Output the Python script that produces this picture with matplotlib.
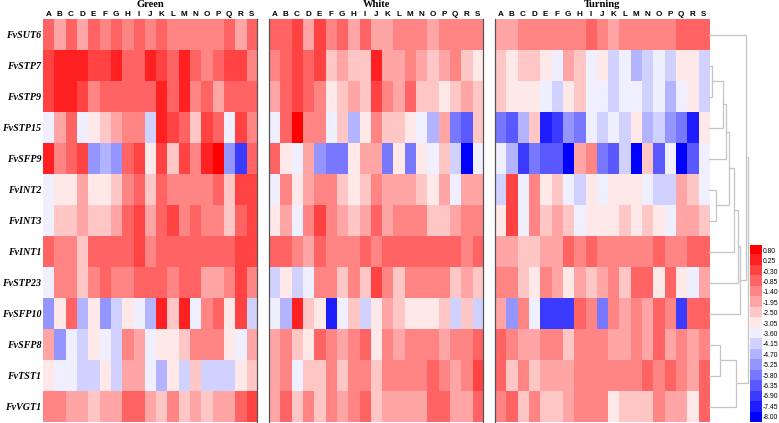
import matplotlib
matplotlib.use("Agg")
import matplotlib.pyplot as plt
import numpy as np
from matplotlib.colors import ListedColormap, BoundaryNorm


genes = ["FvSUT6", "FvSTP7", "FvSTP9", "FvSTP15", "FvSFP9", "FvINT2", "FvINT3",
         "FvINT1", "FvSTP23", "FvSFP10", "FvSFP8", "FvTST1", "FvVGT1"]
columns = list("ABCDEFGHIJKLMNOPQRS")
stages = ["Green", "White", "Turning"]
levels = [0.80, 0.25, -0.30, -0.85, -1.40, -1.95, -2.50, -3.05, -3.60,
          -4.15, -4.70, -5.25, -5.80, -6.35, -6.90, -7.45, -8.00]

green = [
    [-0.85, -1.95, -0.85, -1.95, -0.85, -1.4, -0.85, -1.4, -0.85, -1.4, -0.85, -1.4, -1.4, -1.4, -1.4, -1.4, -0.85, -1.95, -0.85],
    [-0.3, 0.25, 0.25, 0.25, -0.3, -0.3, 0.25, -0.85, -0.85, 0.25, -0.3, -0.85, 0.25, -0.85, -1.4, -0.85, -0.3, -0.3, -1.4],
    [-0.3, 0.25, 0.25, -0.3, -1.4, -0.85, -0.85, -0.85, -0.85, -0.85, 0.25, -0.85, 0.25, -1.4, -0.85, -1.95, -0.85, -0.85, -0.85],
    [-3.6, -1.95, -0.85, -3.6, -3.05, -2.5, -1.95, -1.4, -1.4, -4.15, 0.25, -0.3, -0.85, -2.5, -0.3, -0.85, -3.6, -0.3, -1.4],
    [0.25, -1.4, -0.85, -0.3, -5.25, -4.7, -5.25, -0.85, -0.3, -3.05, -0.3, -2.5, -0.3, -1.4, 0.25, 0.8, -5.25, -6.9, -0.85],
    [-3.6, -3.05, -3.05, -1.95, -3.05, -3.05, -2.5, -1.4, -0.85, -2.5, -0.85, -1.4, -1.4, -1.4, -1.4, -0.85, -2.5, -0.3, -0.3],
    [-3.6, -2.5, -2.5, -1.95, -2.5, -2.5, -1.95, -0.85, -0.3, -1.95, -0.85, -0.3, -1.4, -0.85, -1.4, -1.4, -2.5, -0.85, -0.3],
    [-0.85, -1.4, -1.4, -2.5, -0.85, -0.85, -0.85, -0.85, -0.3, -1.4, -0.85, -0.85, -0.85, -0.85, -0.85, -0.85, -0.85, -0.3, -0.3],
    [-3.6, -1.4, -1.4, -2.5, -1.4, -0.85, -1.4, -1.4, -0.85, -0.85, -0.85, -1.4, -0.85, -0.85, -1.95, -1.95, -1.4, -0.3, -1.4],
    [-5.25, -3.05, -0.85, -4.7, -3.05, -5.25, -4.15, -3.05, -3.6, -4.7, 0.25, -2.5, 0.25, -3.6, -1.4, -0.85, -3.05, -0.3, -4.15],
    [-1.95, -5.25, -3.6, -4.15, -3.05, -3.6, -4.15, -1.4, -1.95, -3.6, -3.05, -3.05, -2.5, -1.4, -1.4, -1.4, -3.05, -3.6, -1.95],
    [-3.05, -3.6, -3.6, -4.15, -4.15, -3.05, -4.15, -1.95, -1.95, -3.6, -4.7, -3.05, -4.15, -2.5, -4.15, -4.15, -4.15, -3.05, -2.5],
    [-1.4, -1.4, -1.95, -1.95, -2.5, -1.95, -1.95, -0.85, -0.85, -1.95, -2.5, -1.4, -2.5, -1.95, -2.5, -1.95, -1.95, -0.85, -0.3],
]

white = [
    [-0.85, -0.85, -0.3, -1.95, -0.3, -1.4, -0.85, -1.95, -0.85, -1.95, -1.95, -1.4, -1.4, -1.4, -1.95, -1.4, -1.4, -1.4, -1.4],
    [-1.4, -0.85, -0.3, -0.85, -0.3, -2.5, -1.95, -2.5, -2.5, 0.25, -1.95, -1.95, -1.4, -1.95, -2.5, -1.95, -1.4, -2.5, -3.05],
    [-1.95, -0.85, -0.3, -0.85, -1.4, -3.05, -2.5, -1.95, -2.5, -0.3, -1.4, -1.95, -0.85, -2.5, -2.5, -3.05, -2.5, -1.95, -2.5],
    [-3.6, -0.85, 0.8, -1.4, -1.4, -3.6, -2.5, -4.7, -3.05, -1.4, -2.5, -2.5, -3.05, -3.6, -4.7, -1.95, -5.8, -6.35, -2.5],
    [-0.85, -3.05, -3.6, -1.95, -5.25, -5.8, -5.8, -3.05, -1.95, -1.95, -5.8, -3.05, -5.8, -3.05, -3.6, -2.5, -4.15, -8.0, -3.6],
    [-3.6, -1.4, -3.05, -1.95, -1.4, -1.4, -2.5, -3.05, -2.5, -1.4, -1.95, -1.95, -1.95, -2.5, -3.05, -1.95, -3.6, -1.95, -1.95],
    [-3.05, -1.95, -3.6, -1.4, -0.3, -1.4, -1.95, -2.5, -1.95, -0.85, -1.95, -1.4, -1.4, -1.4, -2.5, -2.5, -1.95, -1.4, -1.4],
    [-0.85, -0.85, -1.4, -1.95, -0.85, -1.4, -1.4, -1.4, -0.85, -1.4, -0.85, -0.85, -0.85, -0.85, -0.85, -0.85, -0.85, -1.4, -0.85],
    [-4.15, -3.05, -4.15, -3.6, -1.4, -1.4, -2.5, -1.4, -2.5, -0.3, -1.4, -2.5, -1.4, -1.4, -1.4, -1.4, -2.5, -1.95, -2.5],
    [-3.6, -4.7, 0.25, -2.5, -3.05, -7.45, -3.6, -2.5, -4.15, -3.05, -1.95, -2.5, -3.05, -3.05, -3.05, -2.5, -4.15, -2.5, -4.15],
    [-1.95, -1.4, -2.5, -3.05, -0.85, -1.4, -1.95, -1.4, -0.85, -3.05, -1.4, -1.95, -1.4, -1.4, -1.4, -1.95, -1.4, -1.4, -0.85],
    [-1.95, -1.4, -3.6, -2.5, -2.5, -1.4, -2.5, -1.4, -1.4, -2.5, -1.4, -1.4, -1.4, -1.4, -0.85, -1.4, -1.95, -1.4, -0.3],
    [-1.95, -0.85, -2.5, -1.4, -2.5, -1.4, -1.95, -1.4, -0.85, -2.5, -1.95, -1.95, -1.95, -1.95, -0.85, -0.85, -1.95, -1.95, -0.85],
]

turning = [
    [-1.95, -1.95, -1.4, -1.4, -1.4, -1.4, -1.4, -1.4, -0.85, -1.4, -1.95, -1.4, -1.4, -1.4, -1.4, -1.4, -0.85, -0.85, -0.85],
    [-2.5, -3.05, -2.5, -2.5, -3.05, -3.6, -1.95, -2.5, -3.6, -3.05, -4.15, -3.6, -4.7, -4.15, -3.6, -4.15, -3.05, -3.05, -4.15],
    [-2.5, -3.05, -3.05, -3.05, -3.6, -4.15, -3.05, -2.5, -3.6, -3.6, -4.15, -3.6, -3.6, -4.15, -3.6, -4.7, -3.6, -3.05, -4.15],
    [-5.8, -6.35, -4.7, -2.5, -7.45, -6.9, -5.25, -5.8, -3.6, -4.15, -3.6, -4.15, -3.05, -4.7, -4.15, -5.25, -5.8, -7.45, -3.05],
    [-3.6, -4.7, -6.9, -5.8, -6.35, -6.35, -8.0, -1.95, -1.4, -5.8, -6.35, -4.15, -8.0, -2.5, -6.35, -3.6, -8.0, -6.35, -3.6],
    [-4.15, -0.3, -3.6, -1.4, -3.05, -2.5, -3.6, -4.15, -3.05, -3.6, -3.05, -3.05, -3.05, -3.6, -4.15, -4.15, -1.95, -2.5, -3.6],
    [-3.05, -0.3, -3.6, -1.4, -2.5, -1.95, -2.5, -3.6, -3.05, -3.05, -3.05, -2.5, -3.05, -2.5, -3.05, -3.6, -1.95, -1.95, -2.5],
    [-1.95, -1.95, -2.5, -2.5, -1.95, -1.95, -0.85, -1.4, -0.85, -1.4, -1.4, -1.4, -1.4, -1.4, -0.85, -1.4, -1.4, -0.85, -0.85],
    [-1.4, -1.4, -2.5, -3.05, -1.4, -1.95, -3.05, -1.95, -2.5, -1.95, -1.4, -2.5, -0.85, -0.85, -3.05, -0.85, -3.05, -3.6, -1.95],
    [-1.95, -5.25, -1.4, -3.6, -6.9, -6.9, -6.9, -0.85, -1.4, -5.8, -1.4, -1.95, -1.4, -1.95, -0.85, -1.4, -6.9, -0.85, -0.85],
    [-0.85, -1.4, -1.95, -1.95, -1.4, -1.4, -2.5, -1.4, -1.4, -1.4, -1.95, -1.95, -1.4, -1.95, -0.85, -1.95, -1.4, -1.95, -1.4],
    [-0.85, -2.5, -1.4, -2.5, -1.95, -1.95, -1.95, -1.4, -1.4, -1.4, -1.4, -1.4, -1.4, -0.85, -1.4, -0.85, -1.4, -1.95, -0.85],
    [-1.4, -0.85, -2.5, -1.4, -2.5, -2.5, -1.95, -1.4, -1.4, -1.4, -3.05, -2.5, -2.5, -2.5, -1.4, -1.95, -1.95, -3.05, -0.85],
]

# row clustering: (child, child, height); leaves are 0..12, new clusters 13..
merges = [
    (1, 2, 2.6), (5, 6, 7.0), (10, 11, 10.3), (13, 3, 13.3), (16, 4, 17.0),
    (17, 14, 19.3), (18, 7, 24.6), (15, 12, 26.6), (19, 8, 28.6),
    (21, 9, 30.3), (0, 22, 37.0), (23, 20, 38.8),
]

W, H = 779, 423
fig = plt.figure(figsize=(W / 100, H / 100), dpi=100)


def px_box(x0, y0, x1, y1):
    return [x0 / W, 1 - y1 / H, (x1 - x0) / W, (y1 - y0) / H]


# discrete red-white-blue palette, one colour per colorbar level
red_part = [(1, s, s) for s in np.linspace(0, 0.91, 8)]
blue_part = [(s, s, 1) for s in np.linspace(0.94, 0, 9)]
palette = (red_part + blue_part)[::-1]
asc = sorted(levels)
bounds = [asc[0] - 0.275] + [(a + b) / 2 for a, b in zip(asc[:-1], asc[1:])] + [asc[-1] + 0.275]
cmap = ListedColormap(palette)
norm = BoundaryNorm(bounds, cmap.N)

top, bottom = 19.3, 422.0
left0, col_w = 42.7, 11.3
panel_w = col_w * len(columns)
edge_color = "#555555"

for index, (stage, data) in enumerate(zip(stages, [green, white, turning])):
    left = left0 + index * (len(columns) + 1) * col_w
    ax = fig.add_axes(px_box(left, top, left + panel_w, bottom))
    ax.imshow(np.array(data), cmap=cmap, norm=norm, aspect="auto",
              interpolation="nearest")
    ax.xaxis.tick_top()
    ax.set_xticks(range(len(columns)))
    ax.set_xticklabels(columns, fontsize=5.9, fontweight="bold",
                       family="Liberation Sans")
    ax.tick_params(axis="both", length=0, pad=0.6)
    if index == 0:
        ax.set_yticks(range(len(genes)))
        ax.set_yticklabels(genes, fontsize=7.2, fontweight="bold",
                           fontstyle="italic", family="Liberation Serif")
        ax.tick_params(axis="y", pad=1)
    else:
        ax.set_yticks([])
    for side in ["top", "bottom", "left", "right"]:
        ax.spines[side].set_visible(False)
    if index > 0:
        ax.spines["left"].set_visible(True)
    if index < 2:
        ax.spines["right"].set_visible(True)
    for side in ["left", "right"]:
        ax.spines[side].set_color(edge_color)
        ax.spines[side].set_linewidth(0.9)
    ax.annotate(stage, xy=(0.5, 1), xycoords="axes fraction",
                xytext=(0, top * 0.72), textcoords="offset points",
                ha="center", va="top", fontsize=7.6, fontweight="bold",
                family="Liberation Serif")

# dendrogram
dax = fig.add_axes(px_box(left0 + 59 * col_w, top, 750, bottom))
dax.set_xlim(0, 750 - (left0 + 59 * col_w))
dax.set_ylim(len(genes) - 0.5, -0.5)
node_y = {i: float(i) for i in range(len(genes))}
node_h = {i: 0.0 for i in range(len(genes))}
for k, (a, b, h) in enumerate(merges):
    new_id = len(genes) + k
    ya, yb = node_y[a], node_y[b]
    dax.plot([node_h[a], h, h, node_h[b]], [ya, ya, yb, yb],
             color="#c4c4c4", lw=0.9, solid_joinstyle="miter", clip_on=False)
    node_y[new_id] = (ya + yb) / 2
    node_h[new_id] = h
dax.set_axis_off()

# colorbar
cax = fig.add_axes(px_box(750, 245, 761.7, 422))
cax.imshow(np.array(levels)[:, None], cmap=cmap, norm=norm, aspect="auto",
           interpolation="nearest")
cax.set_xticks([])
cax.yaxis.tick_right()
cax.set_yticks(range(len(levels)))
cax.set_yticklabels([f"{v:.2f}" for v in levels], fontsize=4.9,
                    family="Liberation Sans")
cax.tick_params(axis="y", length=0, pad=0.4)
for side in ["top", "bottom", "left", "right"]:
    cax.spines[side].set_visible(False)

fig.savefig("out.png", dpi=100)
